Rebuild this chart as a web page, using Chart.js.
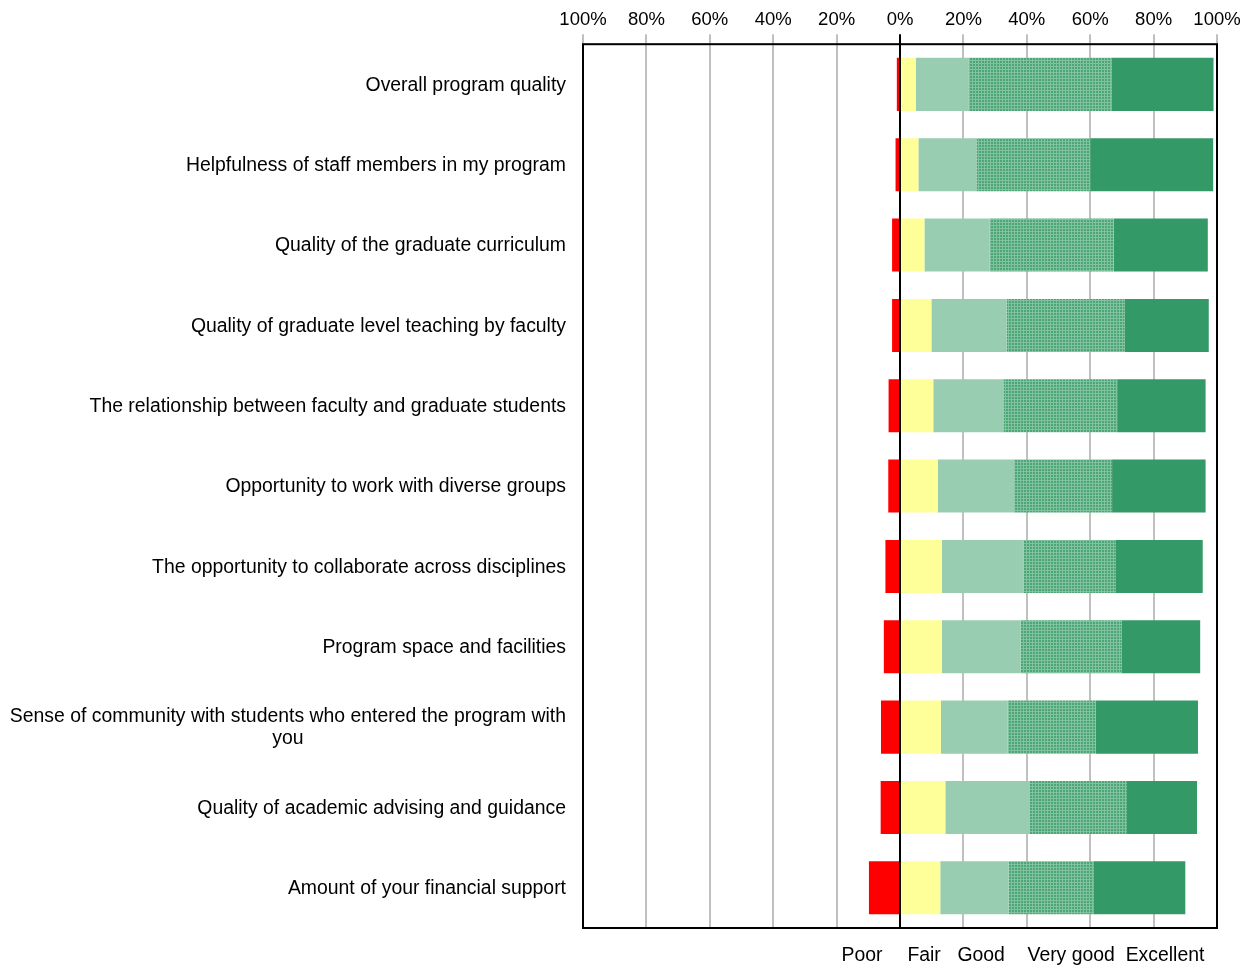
<!DOCTYPE html>
<html>
<head>
<meta charset="utf-8">
<script src="https://cdn.jsdelivr.net/npm/chart.js@4.4.1/dist/chart.umd.min.js"></script>
<style>
  body { margin: 0; background: #fff; }
  #wrap { width: 1252px; height: 965px; position: relative; }
</style>
</head>
<body>
<div id="wrap"><canvas id="chart"></canvas></div>
<script>
// Categories (top to bottom)
const categories = [
  'Overall program quality',
  'Helpfulness of staff members in my program',
  'Quality of the graduate curriculum',
  'Quality of graduate level teaching by faculty',
  'The relationship between faculty and graduate students',
  'Opportunity to work with diverse groups',
  'The opportunity to collaborate across disciplines',
  'Program space and facilities',
  ['Sense of community with students who entered the program with', 'you'],
  'Quality of academic advising and guidance',
  'Amount of your financial support'
];

// Percent of responses (Poor drawn to the left of zero)
const poor      = [1.0, 1.4, 2.5, 2.5, 3.6, 3.7, 4.6, 5.1, 6.0, 6.1, 9.8];
const fair      = [5.0, 5.8, 7.7, 9.9, 10.5, 11.9, 13.2, 13.2, 12.9, 14.3, 12.7];
const good      = [16.6, 18.3, 20.6, 23.8, 22.1, 24.1, 25.7, 24.9, 21.1, 26.7, 21.5];
const veryGood  = [45.1, 35.9, 39.1, 37.2, 35.9, 30.9, 29.2, 31.8, 27.8, 30.6, 26.8];
const excellent = [32.2, 38.8, 29.7, 26.5, 27.9, 29.5, 27.4, 24.8, 32.2, 22.1, 29.0];

const xTicks = [-100, -80, -60, -40, -20, 0, 20, 40, 60, 80, 100];

// fine cross-hatch for "Very good"
function hatch() {
  const c = document.createElement('canvas');
  c.width = 3; c.height = 3;
  const g = c.getContext('2d');
  g.fillStyle = '#4ca678';
  g.fillRect(0, 0, 3, 3);
  g.fillStyle = '#80c19e';
  g.fillRect(0, 0, 3, 1);
  g.fillRect(0, 0, 1, 3);
  return g.createPattern(c, 'repeat');
}

const FONT = 'Liberation Sans, Arial, sans-serif';

// y labels drawn by hand so the wrapped label is centred like the original
const yLabels = {
  id: 'yLabels',
  afterDraw(chart) {
    const { ctx, chartArea, scales } = chart;
    ctx.save();
    ctx.font = '19.4px ' + FONT;
    ctx.fillStyle = '#000';
    ctx.textBaseline = 'middle';
    const right = chartArea.left - 17;
    categories.forEach((lab, i) => {
      const y = scales.y.getPixelForValue(i) + 1;
      if (Array.isArray(lab)) {
        const w = Math.max(...lab.map(l => ctx.measureText(l).width));
        ctx.textAlign = 'center';
        lab.forEach((l, k) => {
          ctx.fillText(l, right - w / 2, y + (k - (lab.length - 1) / 2) * 22);
        });
      } else {
        ctx.textAlign = 'right';
        ctx.fillText(lab, right, y);
      }
    });
    ctx.restore();
  }
};

// plot frame + text-only legend below the plot
const frameAndLegend = {
  id: 'frameAndLegend',
  afterDraw(chart) {
    const { ctx, chartArea: a, scales } = chart;
    ctx.save();
    ctx.strokeStyle = '#000';
    ctx.lineWidth = 2;
    ctx.strokeRect(a.left, a.top, a.right - a.left, a.bottom - a.top);
    ctx.font = '19.4px ' + FONT;
    ctx.fillStyle = '#000';
    ctx.textAlign = 'center';
    ctx.textBaseline = 'middle';
    const at = [-12, 7.6, 25.6, 54, 83.6];
    chart.data.datasets.forEach((ds, i) => {
      ctx.fillText(ds.label, scales.x.getPixelForValue(at[i]), a.bottom + 28);
    });
    ctx.restore();
  }
};

new Chart(document.getElementById('chart'), {
  type: 'bar',
  data: {
    labels: categories.map(c => Array.isArray(c) ? c.join(' ') : c),
    datasets: [
      { label: 'Poor', data: poor.map(v => -v), backgroundColor: '#ff0000' },
      { label: 'Fair', data: fair, backgroundColor: '#ffff99' },
      { label: 'Good', data: good, backgroundColor: '#99cdb1' },
      { label: 'Very good', data: veryGood, backgroundColor: hatch() },
      { label: 'Excellent', data: excellent, backgroundColor: '#339966' }
    ]
  },
  options: {
    indexAxis: 'y',
    responsive: true,
    maintainAspectRatio: false,
    animation: false,
    categoryPercentage: 1,
    barPercentage: 0.66,
    layout: { padding: { top: 6, right: 35, bottom: 37, left: 0 } },
    plugins: { legend: { display: false }, tooltip: { enabled: false } },
    scales: {
      x: {
        position: 'top',
        stacked: true,
        min: -100,
        max: 100,
        z: 1,
        afterBuildTicks(scale) { scale.ticks = xTicks.map(v => ({ value: v })); },
        ticks: {
          autoSkip: false,
          maxRotation: 0,
          padding: 3,
          color: '#000',
          font: { family: FONT, size: 18.5 },
          callback: v => Math.abs(v) + '%'
        },
        grid: {
          tickLength: 10,
          color: c => c.tick && c.tick.value === 0 ? '#000' : '#c0c0c0',
          tickColor: c => c.tick && c.tick.value === 0 ? '#000' : '#c0c0c0',
          lineWidth: 2
        },
        border: { display: false }
      },
      y: {
        stacked: true,
        ticks: { display: false },
        grid: { display: false },
        border: { display: false },
        afterFit(scale) { scale.width = 583; }
      }
    }
  },
  plugins: [yLabels, frameAndLegend]
});
</script>
</body>
</html>
